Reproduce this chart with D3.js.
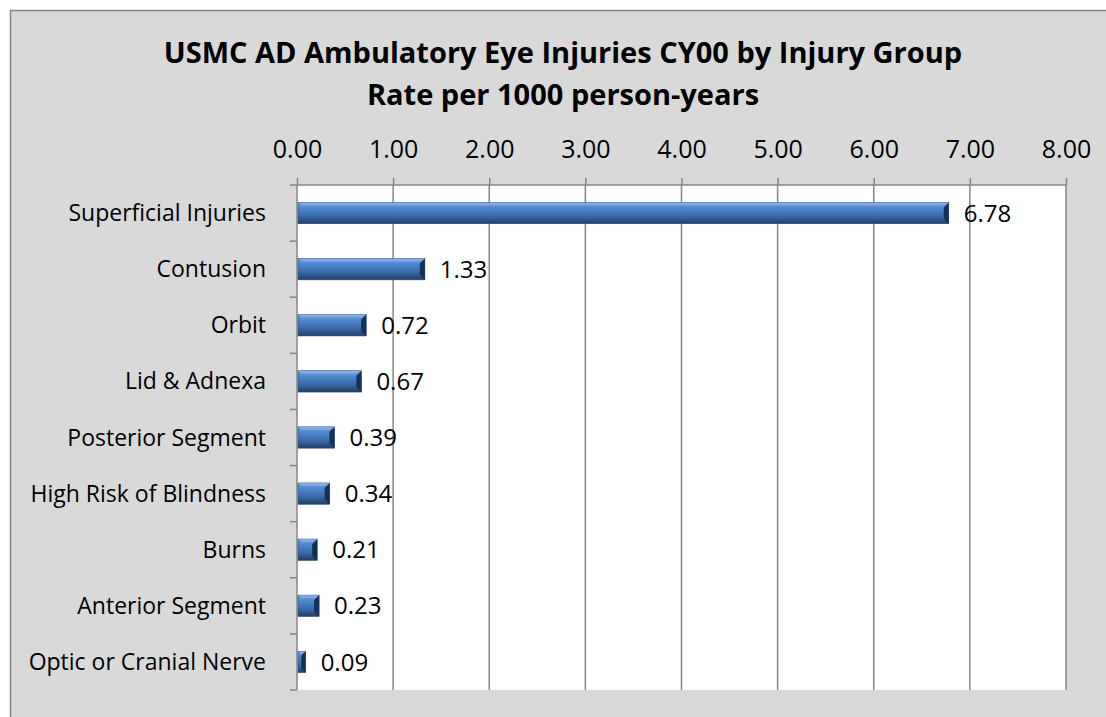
<!DOCTYPE html>
<html>
<head>
<meta charset="utf-8">
<script src="https://cdn.jsdelivr.net/npm/d3@7"></script>
<style>
  body { margin: 0; background: #fff; }
  text { font-family: "Open Sans", "Noto Sans", sans-serif; }
</style>
</head>
<body>
<svg id="chart" width="1106" height="717"></svg>
<script>
const categories = ["Superficial Injuries", "Contusion", "Orbit", "Lid & Adnexa", "Posterior Segment",
  "High Risk of Blindness", "Burns", "Anterior Segment", "Optic or Cranial Nerve"];
const rates = [6.78, 1.33, 0.72, 0.67, 0.39, 0.34, 0.21, 0.23, 0.09];
const xTicks = [0, 1, 2, 3, 4, 5, 6, 7, 8];
const titleLines = ["USMC AD Ambulatory Eye Injuries CY00 by Injury Group", "Rate per 1000 person-years"];

const data = categories.map((c, i) => ({ name: c, value: rates[i] }));

const svg = d3.select("#chart");
const plot = { left: 297, right: 1066, top: 185, bottom: 690 };

// chart frame
svg.append("rect")
  .attr("x", 10.5).attr("y", 10.5)
  .attr("width", 1110).attr("height", 720)
  .style("fill", "#d9d9d9")
  .style("stroke", "#868686")
  .style("stroke-width", 1.5);

svg.append("rect")
  .attr("x", plot.left).attr("y", plot.top)
  .attr("width", plot.right - plot.left).attr("height", plot.bottom - plot.top)
  .style("fill", "#fff");

// title
svg.selectAll(".title")
  .data(titleLines)
  .enter()
  .append("text")
  .attr("class", "title")
  .attr("x", 563)
  .attr("y", (d, i) => 63 + i * 42)
  .attr("text-anchor", "middle")
  .style("font-size", "29px")
  .style("font-weight", "bold")
  .style("fill", "#000")
  .text(d => d);

const xScale = d3.scaleLinear().domain([0, 8]).range([plot.left, plot.right]);
const yScale = d3.scaleBand().domain(categories).range([plot.top, plot.bottom]).paddingInner(0.62).paddingOuter(0.31);
const yBand = d3.scaleBand().domain(categories).range([plot.top, plot.bottom]);

// gradient for bars
const defs = svg.append("defs");
const grad = defs.append("linearGradient").attr("id", "barGrad")
  .attr("x1", 0).attr("y1", 0).attr("x2", 0).attr("y2", 1);
grad.append("stop").attr("offset", "0%").attr("stop-color", "#6d9ad6");
grad.append("stop").attr("offset", "35%").attr("stop-color", "#4a80c8");
grad.append("stop").attr("offset", "70%").attr("stop-color", "#35649f");
grad.append("stop").attr("offset", "100%").attr("stop-color", "#1f3c66");

// top axis with gridlines
const xAxis = d3.axisTop(xScale)
  .tickValues(xTicks)
  .tickFormat(d3.format(".2f"))
  .tickSize(7)
  .tickPadding(20);

const gx = svg.append("g")
  .attr("transform", `translate(0,${plot.top})`)
  .call(xAxis);
gx.select(".domain").attr("stroke", "#868686").attr("stroke-width", 1.5)
  .attr("d", `M${plot.left},0H${plot.right}`);
gx.selectAll(".tick line").attr("stroke", "#868686").attr("stroke-width", 1.5);
gx.selectAll(".tick text")
  .style("font-size", "25px")
  .style("font-family", "'Open Sans', sans-serif")
  .style("fill", "#000");

svg.append("g")
  .selectAll("line")
  .data(xTicks)
  .enter()
  .append("line")
  .attr("x1", d => xScale(d)).attr("x2", d => xScale(d))
  .attr("y1", plot.top).attr("y2", plot.bottom)
  .style("stroke", "#868686")
  .style("stroke-width", 1.5);

// left axis: category labels + ticks at band boundaries
svg.append("g")
  .selectAll("line")
  .data(categories.concat([null]))
  .enter()
  .append("line")
  .attr("x1", plot.left - 7).attr("x2", plot.left)
  .attr("y1", (d, i) => plot.top + i * yBand.step())
  .attr("y2", (d, i) => plot.top + i * yBand.step())
  .style("stroke", "#868686")
  .style("stroke-width", 1.5);

svg.append("g")
  .selectAll("text")
  .data(data)
  .enter()
  .append("text")
  .attr("x", 266)
  .attr("y", d => yBand(d.name) + yBand.bandwidth() / 2)
  .attr("dy", "0.35em")
  .attr("text-anchor", "end")
  .style("font-size", "23px")
  .style("fill", "#000")
  .text(d => d.name);

// bars
const bars = svg.append("g").selectAll(".bar")
  .data(data)
  .enter()
  .append("g")
  .attr("class", "bar");

bars.append("rect")
  .attr("x", xScale(0) + 1)
  .attr("y", d => yScale(d.name))
  .attr("width", d => xScale(d.value) - xScale(0) - 1)
  .attr("height", yScale.bandwidth())
  .style("fill", "url(#barGrad)")
  .style("stroke", "#2a4a78")
  .style("stroke-width", 0.6);

// bevel at right end
bars.append("path")
  .attr("d", d => {
    const x1 = xScale(d.value), y0 = yScale(d.name), h = yScale.bandwidth();
    const b = Math.min(5, (x1 - xScale(0)) / 2);
    return `M${x1},${y0}L${x1 - b},${y0 + b}L${x1 - b},${y0 + h - b}L${x1},${y0 + h}Z`;
  })
  .style("fill", "#17304f");

// bevel at top edge
bars.append("path")
  .attr("d", d => {
    const x0 = xScale(0) + 1, x1 = xScale(d.value), y0 = yScale(d.name);
    const b = Math.min(4, (x1 - x0) / 2);
    return `M${x0},${y0}L${x1},${y0}L${x1 - b},${y0 + 3}L${x0 + b},${y0 + 3}Z`;
  })
  .style("fill", "#8fb3e3")
  .style("opacity", 0.7);

// value labels
svg.append("g").selectAll("text")
  .data(data)
  .enter()
  .append("text")
  .attr("x", d => xScale(d.value) + 15)
  .attr("y", d => yScale(d.name) + yScale.bandwidth() / 2)
  .attr("dy", "0.36em")
  .style("font-size", "24px")
  .style("fill", "#000")
  .text(d => d.value.toFixed(2));
</script>
</body>
</html>
